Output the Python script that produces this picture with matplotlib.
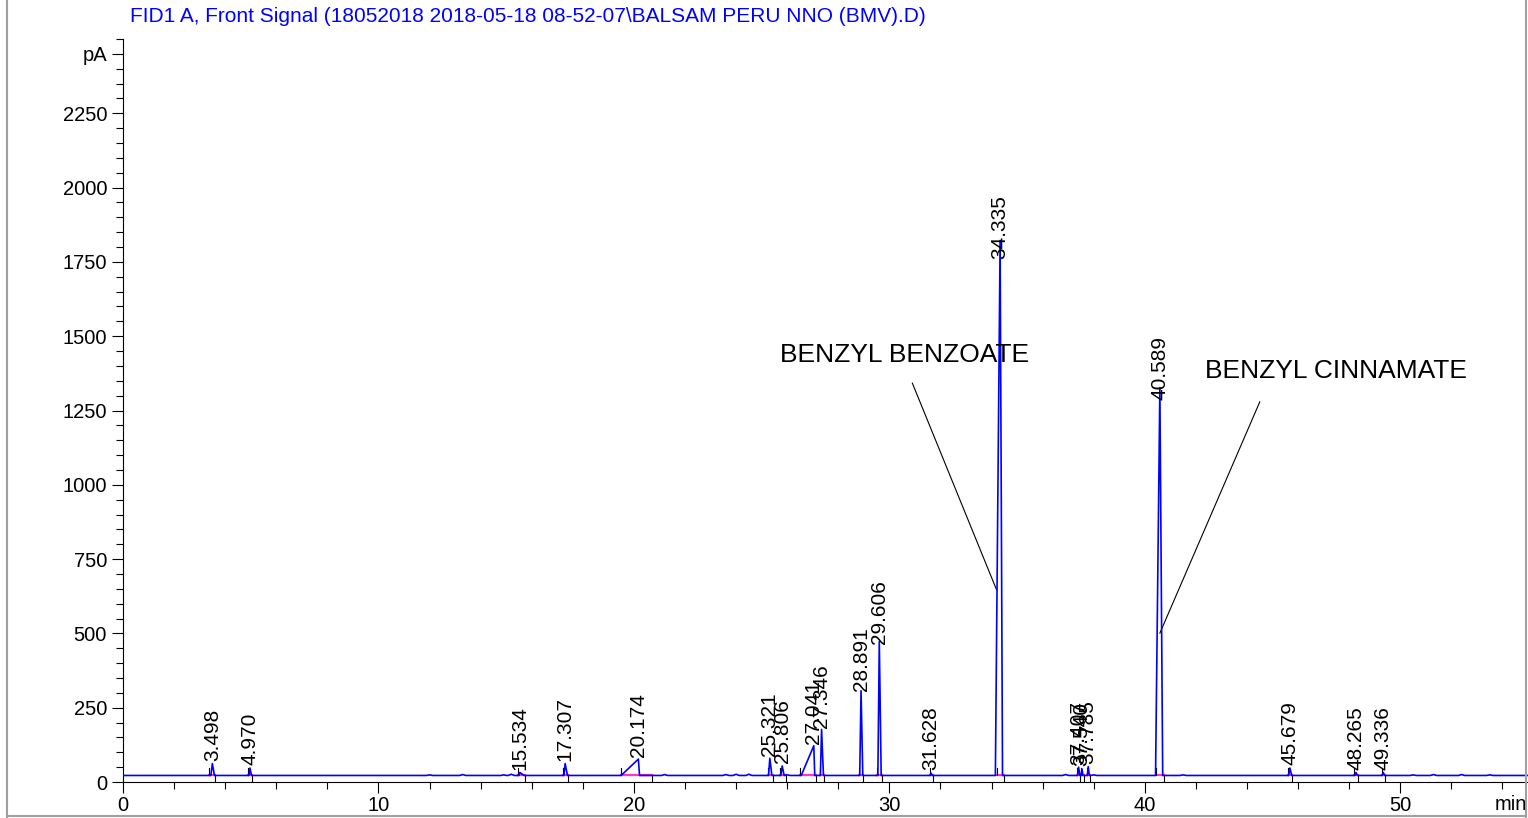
import matplotlib
matplotlib.use("Agg")
import matplotlib.pyplot as plt
from matplotlib.lines import Line2D
import numpy as np

plt.rcParams['font.family'] = ['Liberation Sans', 'DejaVu Sans']

# peak table
rt = [3.498, 4.970, 15.534, 17.307, 20.174, 25.321, 25.806, 27.041, 27.346,
      28.891, 29.606, 31.628, 34.335, 37.407, 37.540, 37.785, 40.589,
      45.679, 48.265, 49.336]
height = [40, 25, 10, 40, 55, 58, 32, 100, 155, 285, 450, 8, 1800, 28, 22,
          30, 1305, 25, 10, 10]
left_foot = [3.44, 4.93, 15.50, 17.26, 19.50, 25.27, 25.75, 26.55, 27.30,
             28.84, 29.55, 31.60, 34.15, 37.37, 37.51, 37.75, 40.42,
             45.63, 48.22, 49.29]
right_foot = [3.58, 5.03, 15.70, 17.40, 20.22, 25.40, 25.90, 27.08, 27.42,
              28.96, 29.68, 31.68, 34.43, 37.46, 37.58, 37.83, 40.70,
              45.75, 48.32, 49.39]
ev_start = [3.35, 4.90, 15.48, 17.23, 19.50, 25.24, 25.72, 26.52, 27.30,
            28.82, 29.53, 31.58, 34.20, 37.35, 37.50, 37.72, 40.45,
            45.62, 48.20, 49.28]
ev_end = [3.60, 5.05, 15.75, 17.43, 20.70, 25.45, 25.95, 27.12, 27.45,
          28.98, 29.70, 31.72, 34.50, 37.47, 37.60, 37.85, 40.75,
          45.78, 48.35, 49.40]

# small baseline ripples
noise_t = [12.0, 13.3, 14.9, 15.2, 21.2, 23.6, 24.0, 24.5, 26.0, 36.9,
           38.0, 41.5, 50.5, 51.3, 52.4, 53.5]
noise_h = [2, 3, 2, 4, 3, 3, 4, 4, 2, 3, 2, 2, 2, 3, 3, 2]

baseline = 22
t_end = 55

labels = [("BENZYL BENZOATE", 25.7, 1437, 30.9, 1342, 34.2, 646),
          ("BENZYL CINNAMATE", 42.35, 1383, 44.5, 1279, 40.59, 501)]

# build the trace from the peak table
pts = [(0.0, baseline), (t_end, baseline)]
for i in range(len(rt)):
    pts += [(left_foot[i], baseline), (rt[i], baseline + height[i]),
            (right_foot[i], baseline)]
for t, h in zip(noise_t, noise_h):
    pts += [(t - 0.12, baseline), (t, baseline + h), (t + 0.12, baseline)]
pts.sort()
tx = [p[0] for p in pts]
ty = [p[1] for p in pts]

fig = plt.figure(figsize=(15.28, 8.18), dpi=100)
ax = fig.add_axes([123/1528, 36/818, 1-123/1528, (782-39)/818])

ax.plot(tx, ty, color='#0000ff', lw=1.2, zorder=3)

for i in range(len(rt)):
    ax.plot([ev_start[i], ev_end[i]], [baseline, baseline], color='#ff33cc',
            lw=1.6, zorder=2)
    ax.plot([ev_start[i]] * 2, [baseline, baseline + 25], color='black', lw=0.8)
    ax.plot([ev_end[i]] * 2, [baseline, 2], color='black', lw=0.8)
    ytxt = baseline + height[i] * 0.96 + 10
    ax.text(rt[i], ytxt, f"{rt[i]:.3f}", rotation=90,
            rotation_mode='anchor', ha='left', va='center', fontsize=15,
            zorder=4)

for txt, x0, y0, x1, y1, x2, y2 in labels:
    ax.text(x0, y0, txt, fontsize=19, ha='left', va='center')
    ax.plot([x1, x2], [y1, y2], color='black', lw=0.8)

ax.set_xlim(0, 55)
ax.set_ylim(0, 2500)
ax.set_xticks([0, 10, 20, 30, 40, 50])
ax.set_xticks(np.arange(0, 55, 2), minor=True)
ax.set_yticks(list(range(0, 2500, 250)) + [2450])
ax.set_yticklabels([str(v) for v in range(0, 2500, 250)] + ['pA'])
ax.set_yticks(np.arange(0, 2501, 50), minor=True)
ax.tick_params(axis='both', which='major', direction='out', length=8,
               width=0.8, labelsize=14.5)
ax.tick_params(axis='both', which='minor', direction='out', length=5,
               width=0.8)
ax.tick_params(axis='x', pad=2)
for s in ['top', 'right']:
    ax.spines[s].set_visible(False)
ax.text(0.999, -0.018, 'min', transform=ax.transAxes, ha='right', va='top',
        fontsize=14.5)

fig.text(130/1528, 1 - 16/818,
         r"FID1 A, Front Signal (18052018 2018-05-18 08-52-07\BALSAM PERU NNO (BMV).D)",
         color='#0000ff', fontsize=15, ha='left', va='center')

# outer frame
frame = dict(color='#a0a0a0', lw=1.5, transform=fig.transFigure)
fig.add_artist(Line2D([7/1528, 7/1528], [0, 1], **frame))
fig.add_artist(Line2D([7/1528, 1526/1528], [2/818, 2/818], **frame))
fig.add_artist(Line2D([1526/1528, 1526/1528], [0, 1], **frame))

fig.savefig('out.png', dpi=100)
